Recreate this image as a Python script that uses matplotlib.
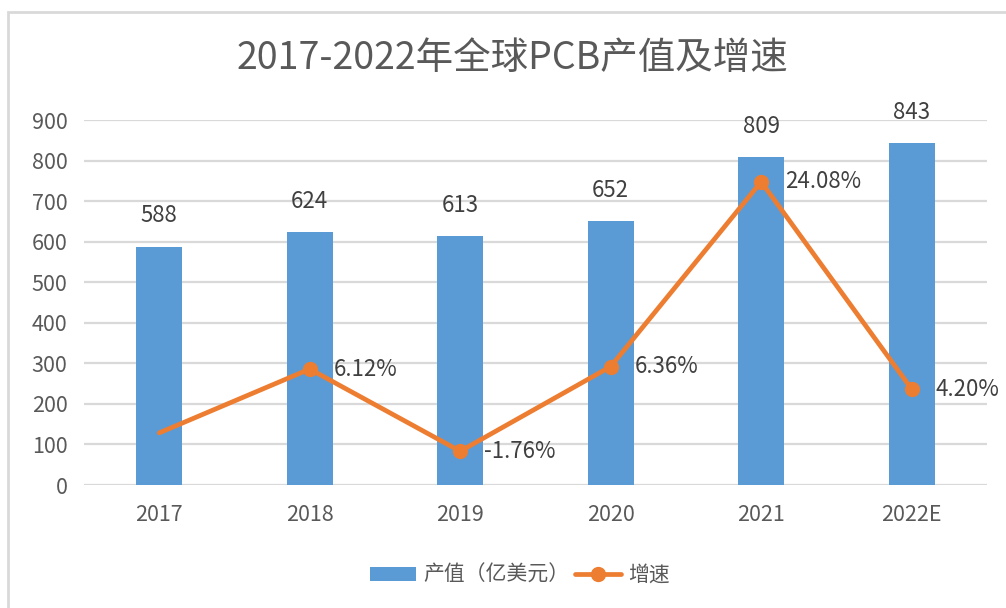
import matplotlib
matplotlib.use('Agg')
import matplotlib.pyplot as plt
from matplotlib.patches import Rectangle

plt.rcParams['font.family'] = ['Noto Sans CJK SC', 'DejaVu Sans']

# data
years = ['2017', '2018', '2019', '2020', '2021', '2022E']
output_value = [588, 624, 613, 652, 809, 843]      # 产值（亿美元）
growth = [0.0, 6.12, -1.76, 6.36, 24.08, 4.20]      # 增速 (%), 2017 left blank
growth_labels = ['', '6.12%', '-1.76%', '6.36%', '24.08%', '4.20%']

BLUE = '#5B9BD5'
ORANGE = '#ED7D31'
GRID = '#D9D9D9'
TICK = '#595959'
LABEL = '#404040'

fig = plt.figure(figsize=(10.06, 6.08), dpi=100)
ax = fig.add_axes([0.0835, 0.2023, 0.8975, 0.6003])

x = list(range(len(years)))

# bars
bars = ax.bar(x, output_value, width=0.305, color=BLUE, zorder=2, label='产值（亿美元）')
ax.set_ylim(0, 900)
ax.set_xlim(-0.5, len(years) - 0.5)
ax.set_yticks(range(0, 901, 100))
ax.set_xticks(x)
ax.set_xticklabels(years)
ax.yaxis.grid(True, color=GRID, linewidth=1.6, zorder=0)
ax.set_axisbelow(True)
for s in ax.spines.values():
    s.set_visible(False)
ax.tick_params(axis='both', length=0, labelsize=15.5, colors=TICK)
ax.tick_params(axis='x', pad=14)
ax.tick_params(axis='y', pad=12)

for xi, v in zip(x, output_value):
    ax.annotate(str(v), (xi, v), xytext=(0, 22), textcoords='offset points',
                ha='center', va='center', fontsize=16, color=LABEL)

# growth line on a hidden secondary axis
ax2 = ax.twinx()
ax2.set_ylim(-5, 30)
ax2.axis('off')
ax2.plot(x, growth, color=ORANGE, linewidth=3.4, marker='o', markersize=10,
         markevery=list(range(1, len(x))), solid_capstyle='round', zorder=3, label='增速')
for xi, g, lab in zip(x, growth, growth_labels):
    if lab:
        ax2.annotate(lab, (xi, g), xytext=(17, 0), textcoords='offset points',
                     ha='left', va='center', fontsize=16, color=LABEL)

# title
fig.text(0.509, 0.904, '2017-2022年全球PCB产值及增速', ha='center', va='center',
         fontsize=27, color=TICK)

# legend
h1, l1 = ax.get_legend_handles_labels()
h2, l2 = ax2.get_legend_handles_labels()
fig.legend(h1 + h2, l1 + l2, loc='center', bbox_to_anchor=(0.517, 0.054), ncol=2,
           frameon=False, fontsize=15, handlelength=2.2, handletextpad=0.35,
           columnspacing=0.3, labelcolor=TICK)

# outer frame (cropped at right and bottom)
fig.patches.append(Rectangle((8 / 1006, -0.1), 1.2, 1.1 - 12 / 608, transform=fig.transFigure,
                             fill=False, edgecolor='#D9D9D9', linewidth=2, zorder=0))

fig.savefig('out.png', dpi=100, facecolor='white')
